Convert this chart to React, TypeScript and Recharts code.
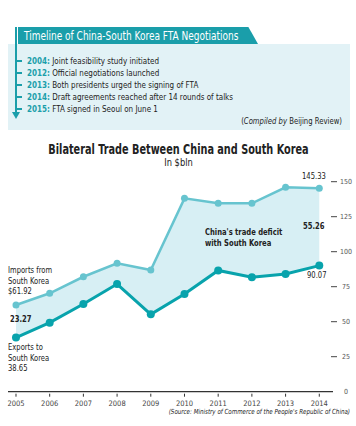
import {
  ComposedChart,
  Area,
  Line,
  XAxis,
  YAxis,
} from "recharts";

const years = [2005, 2006, 2007, 2008, 2009, 2010, 2011, 2012, 2013, 2014];
const imports = [61.92, 70.3, 82.1, 91.7, 86.9, 138.1, 134.6, 134.6, 146.0, 145.33];
const exports = [38.65, 49.3, 62.6, 76.9, 55.3, 69.8, 86.6, 81.7, 84.1, 90.07];
const yTicks = [0, 25, 50, 75, 100, 125, 150];

const timeline = [
  { year: "2004", text: "Joint feasibility study initiated" },
  { year: "2012", text: "Official negotiations launched" },
  { year: "2013", text: "Both presidents urged the signing of FTA" },
  { year: "2014", text: "Draft agreements reached after 14 rounds of talks" },
  { year: "2015", text: "FTA signed in Seoul on June 1" },
];

const data = years.map((year, i) => ({
  year,
  imports: imports[i],
  exports: exports[i],
  range: [exports[i], imports[i]],
}));

const NARROW = '"DejaVu Sans Condensed", "Open Sans", sans-serif';
const TEAL = "#1a9eaa";
const LIGHT = "#67c4cf";
const DARK = "#08a3ac";

function YTick(props: any) {
  const { x, y, payload } = props;
  return (
    <g>
      {payload.value !== 0 && (
        <line x1={x - 10} x2={x - 4} y1={y} y2={y} stroke="#444" strokeWidth={1} />
      )}
      <text x={x + 5} y={y + 2.5} textAnchor="middle" fontSize={7} fill="#555" fontFamily={NARROW}>
        {payload.value}
      </text>
    </g>
  );
}

function XTick(props: any) {
  const { x, y, payload } = props;
  return (
    <g>
      <line x1={x} x2={x} y1={y - 6} y2={y - 3} stroke="#333" strokeWidth={1} />
      <text x={x} y={y + 6.5} textAnchor="middle" fontSize={7.5} fill="#444" fontFamily={NARROW}>
        {payload.value}
      </text>
    </g>
  );
}

const abs = (left: number, top: number, extra: any = {}) => ({
  position: "absolute" as const,
  left,
  top,
  fontFamily: NARROW,
  color: "#222",
  lineHeight: 1,
  whiteSpace: "nowrap" as const,
  transform: "scaleX(0.84)",
  transformOrigin: "left top",
  ...extra,
});

export default function App() {
  return (
    <div style={{ position: "absolute", left: 0, top: 0, width: 356, height: 426, background: "#fff", overflow: "hidden" }}>
      {/* timeline box */}
      <div style={{ position: "absolute", left: 8, top: 44, width: 342, height: 86, background: "#e2f2f6" }} />
      <div
        style={{
          position: "absolute",
          left: 18,
          top: 27,
          width: 240,
          height: 17,
          background: TEAL,
          clipPath: "polygon(0 0, 96% 0, 100% 100%, 0 100%)",
        }}
      />
      <div style={abs(24, 29.5, { color: "#fff", fontSize: 12.5, transform: "scaleX(0.8)" })}>
        Timeline of China-South Korea FTA Negotiations
      </div>
      <div style={{ position: "absolute", left: 15, top: 27, width: 2, height: 88, background: TEAL }} />
      <div
        style={{
          position: "absolute",
          left: 12,
          top: 112,
          width: 8,
          height: 7,
          background: TEAL,
          clipPath: "polygon(0 0, 100% 0, 50% 100%)",
        }}
      />
      {timeline.map((t, i) => (
        <div key={t.year}>
          <div style={{ position: "absolute", left: 17, top: 60 + i * 12, width: 5, height: 1.5, background: TEAL }} />
          <div style={abs(27, 55.5 + i * 12, { fontSize: 9.5 })}>
            <span style={{ color: TEAL, fontWeight: "bold" }}>{t.year}:</span> {t.text}
          </div>
        </div>
      ))}
      <div style={abs(0, 117, { width: 342, textAlign: "right", fontSize: 8.5, transform: "scaleX(0.9)", transformOrigin: "right top" })}>
        (<i>Compiled by</i> Beijing Review)
      </div>

      {/* chart */}
      <div style={{ position: "absolute", left: 0, top: 0 }}>
        <ComposedChart
          width={356}
          height={426}
          data={data}
          margin={{ top: 181.7, right: 0, bottom: 12.3, left: 8 }}
        >
          <XAxis
            dataKey="year"
            type="number"
            domain={[2004.763, 2014.407]}
            ticks={years}
            height={22}
            axisLine={{ stroke: "#333", strokeWidth: 1.3 }}
            tickLine={false}
            tick={<XTick />}
            interval={0}
          />
          <YAxis
            orientation="right"
            width={23}
            domain={[0, 150]}
            ticks={yTicks}
            axisLine={false}
            tickLine={false}
            tick={<YTick />}
            interval={0}
          />
          <Area
            dataKey="range"
            type="linear"
            fill="#d7eff4"
            fillOpacity={1}
            stroke="none"
            isAnimationActive={false}
          />
          <Line
            dataKey="imports"
            type="linear"
            stroke={LIGHT}
            strokeWidth={2.5}
            dot={{ r: 3.5, fill: LIGHT, stroke: "none" }}
            isAnimationActive={false}
          />
          <Line
            dataKey="exports"
            type="linear"
            stroke={DARK}
            strokeWidth={3}
            dot={{ r: 4, fill: DARK, stroke: "none" }}
            isAnimationActive={false}
          />
        </ComposedChart>
      </div>

      {/* titles and annotations */}
      <div style={abs(0, 143, { width: 357, textAlign: "center", fontSize: 13.5, fontWeight: "bold", transform: "scaleX(0.8)", transformOrigin: "center top" })}>
        Bilateral Trade Between China and South Korea
      </div>
      <div style={abs(0, 157, { width: 357, textAlign: "center", fontSize: 11, transformOrigin: "center top" })}>In $bln</div>
      <div style={abs(8, 265, { fontSize: 9, lineHeight: "10.5px" })}>
        Imports from
        <br />
        South Korea
        <br />
        $61.92
      </div>
      <div style={abs(10, 315, { fontSize: 9, fontWeight: "bold" })}>23.27</div>
      <div style={abs(8, 342, { fontSize: 9, lineHeight: "10.5px" })}>
        Exports to
        <br />
        South Korea
        <br />
        38.65
      </div>
      <div style={abs(205, 227, { fontSize: 9, fontWeight: "bold", lineHeight: "11px" })}>
        China's trade deficit
        <br />
        with South Korea
      </div>
      <div style={abs(303, 222, { fontSize: 9, fontWeight: "bold" })}>55.26</div>
      <div style={abs(302, 172, { fontSize: 9 })}>145.33</div>
      <div style={abs(307, 271, { fontSize: 9 })}>90.07</div>
      <div style={abs(0, 409, { width: 350, textAlign: "right", fontSize: 7, fontStyle: "italic", transform: "scaleX(0.88)", transformOrigin: "right top" })}>
        (Source: Ministry of Commerce of the People's Republic of China)
      </div>
    </div>
  );
}
